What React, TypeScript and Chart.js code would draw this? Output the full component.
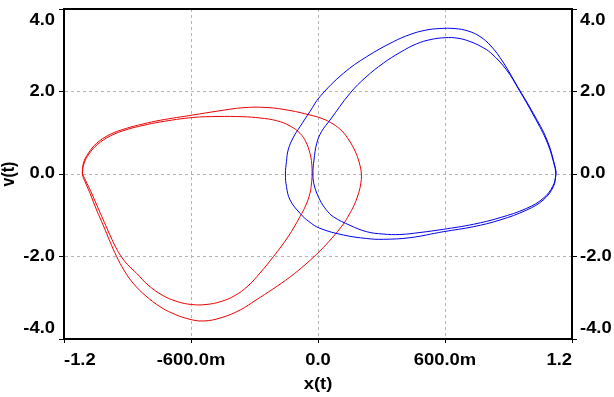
import React, { useEffect, useRef } from 'react';
import { Chart, registerables } from 'chart.js';

Chart.register(...registerables);

// ---- tick values / labels ----
const xTickValues = [-1.2, -0.6, 0, 0.6, 1.2];
const xTickLabels = ['-1.2', '-600.0m', '0.0', '600.0m', '1.2'];
const yTickValues = [-4, -2, 0, 2, 4];
const yTickLabels = ['-4.0', '-2.0', '0.0', '2.0', '4.0'];
const xTitle = 'x(t)';
const yTitle = 'v(t)';

// ---- blue orbit (right well): outer loop then inner loop ----
const blueOuterX = [1.124, 1.112, 1.064, 0.986, 0.860, 0.734, 0.592, 0.435, 0.308, 0.230, 0.120, 0.009, -0.043, -0.085, -0.132, -0.149, -0.154, -0.149, -0.141, -0.118, -0.085, -0.038, 0.009, 0.120, 0.230, 0.356, 0.435, 0.506, 0.576, 0.647, 0.709, 0.765, 0.817, 0.874, 0.943, 1.017, 1.082, 1.120, 1.124];
const blueOuterV = [0.000, -0.308, -0.630, -0.873, -1.115, -1.278, -1.399, -1.544, -1.583, -1.564, -1.479, -1.316, -1.152, -0.953, -0.630, -0.303, 0.000, 0.301, 0.582, 0.873, 1.147, 1.515, 1.874, 2.441, 2.844, 3.207, 3.382, 3.484, 3.527, 3.525, 3.467, 3.333, 3.103, 2.715, 2.116, 1.472, 0.824, 0.177, 0.000];
const blueInnerX = [1.110, 1.063, 0.986, 0.860, 0.734, 0.592, 0.482, 0.387, 0.307, 0.230, 0.151, 0.072, 0.038, 0.009, -0.017, -0.024, -0.019, -0.006, 0.017, 0.057, 0.151, 0.227, 0.308, 0.387, 0.466, 0.534, 0.600, 0.661, 0.718, 0.770, 0.817, 0.891, 0.950, 1.020, 1.084, 1.120, 1.124];
const blueInnerV = [-0.291, -0.594, -0.832, -1.059, -1.219, -1.341, -1.418, -1.467, -1.455, -1.399, -1.244, -1.035, -0.861, -0.630, -0.291, 0.000, 0.339, 0.744, 1.030, 1.309, 1.956, 2.352, 2.684, 2.945, 3.156, 3.261, 3.304, 3.292, 3.212, 3.091, 2.933, 2.521, 2.036, 1.406, 0.752, 0.145, 0.000];

// ---- red orbit (left well): outer loop then inner loop ----
const redOuterX = [-1.113, -1.108, -1.085, -1.046, -0.983, -0.904, -0.827, -0.746, -0.591, -0.472, -0.354, -0.241, -0.132, -0.038, 0.019, 0.071, 0.113, 0.146, 0.175, 0.194, 0.205, 0.201, 0.189, 0.170, 0.146, 0.120, 0.066, 0.009, -0.057, -0.132, -0.213, -0.293, -0.368, -0.454, -0.543, -0.620, -0.690, -0.746, -0.813, -0.873, -0.917, -0.951, -0.983, -1.013, -1.046, -1.077, -1.098, -1.113];
const redOuterV = [0.000, 0.267, 0.502, 0.744, 0.958, 1.108, 1.212, 1.302, 1.430, 1.527, 1.607, 1.612, 1.539, 1.430, 1.345, 1.212, 1.042, 0.824, 0.558, 0.291, 0.000, -0.267, -0.509, -0.764, -0.994, -1.212, -1.552, -1.867, -2.182, -2.497, -2.788, -3.055, -3.297, -3.479, -3.564, -3.503, -3.370, -3.217, -2.958, -2.650, -2.327, -2.005, -1.636, -1.261, -0.873, -0.468, -0.218, 0.000];
const redInnerX = [-1.105, -1.082, -1.042, -0.980, -0.902, -0.827, -0.746, -0.591, -0.472, -0.354, -0.274, -0.195, -0.132, -0.085, -0.057, -0.038, -0.030, -0.028, -0.031, -0.038, -0.057, -0.085, -0.142, -0.211, -0.274, -0.331, -0.392, -0.458, -0.529, -0.597, -0.666, -0.737, -0.803, -0.857, -0.900, -0.933, -0.961, -0.985, -1.009, -1.035, -1.068, -1.091, -1.113];
const redInnerV = [0.255, 0.485, 0.715, 0.926, 1.079, 1.176, 1.261, 1.370, 1.394, 1.389, 1.358, 1.292, 1.164, 0.987, 0.776, 0.502, 0.267, 0.000, -0.242, -0.468, -0.752, -1.035, -1.527, -2.005, -2.400, -2.715, -2.945, -3.091, -3.164, -3.164, -3.091, -2.933, -2.691, -2.407, -2.194, -1.976, -1.721, -1.455, -1.176, -0.873, -0.485, -0.230, 0.000];

const FONT = 'bold 16px "Liberation Sans", Arial, sans-serif';
const STRETCH = 1.15;
const GRID = '#b4b4b4';

const toPoints = (xs: number[], vs: number[]) => xs.map((x, i) => ({ x, y: vs[i] }));

const labelPlugin = {
  id: 'customLabels',
  afterDraw(chart: any) {
    const ctx = chart.ctx as CanvasRenderingContext2D;
    const xs = chart.scales.x;
    const ys = chart.scales.y;
    const area = chart.chartArea;
    const put = (text: string, px: number, py: number, align: CanvasTextAlign, base: CanvasTextBaseline, rot = 0) => {
      ctx.save();
      ctx.translate(px, py);
      if (rot) {
        ctx.rotate(rot);
        ctx.scale(1, STRETCH);
      } else {
        ctx.scale(STRETCH, 1);
      }
      ctx.textAlign = align;
      ctx.textBaseline = base;
      ctx.fillText(text, 0, 0);
      ctx.restore();
    };
    ctx.save();
    ctx.fillStyle = '#000';
    ctx.font = FONT;
    const n = xTickValues.length;
    xTickValues.forEach((v, i) => {
      const px = xs.getPixelForValue(v);
      const align: CanvasTextAlign = i === 0 ? 'left' : i === n - 1 ? 'right' : 'center';
      put(xTickLabels[i], px, area.bottom + 25.5, align, 'alphabetic');
    });
    const m = yTickValues.length;
    yTickValues.forEach((v, i) => {
      let py = ys.getPixelForValue(v);
      if (i === m - 1) py += 12;
      if (i === 0) py -= 10;
      put(yTickLabels[i], area.left - 9, py, 'right', 'middle');
      put(yTickLabels[i], area.right + 8, py, 'left', 'middle');
    });
    put(xTitle, (area.left + area.right) / 2, area.bottom + 49.5, 'center', 'alphabetic');
    put(yTitle, 9, (area.top + area.bottom) / 2, 'center', 'middle', -Math.PI / 2);
    ctx.restore();
  },
};

const gridColor = (n: number) => (c: any) => (c.index === 0 || c.index === n - 1 ? 'rgba(0,0,0,0)' : GRID);

export default function App() {
  const ref = useRef<HTMLCanvasElement | null>(null);
  useEffect(() => {
    if (!ref.current) return;
    const chart = new Chart(ref.current, {
      type: 'scatter',
      data: {
        datasets: [
          {
            data: toPoints(blueOuterX.concat(blueInnerX), blueOuterV.concat(blueInnerV)),
            borderColor: 'rgb(0,0,235)',
            borderWidth: 1,
            showLine: true,
            pointRadius: 0,
            tension: 0.4,
            fill: false,
          },
          {
            data: toPoints(redOuterX.concat(redInnerX), redOuterV.concat(redInnerV)),
            borderColor: 'rgb(235,0,0)',
            borderWidth: 1,
            showLine: true,
            pointRadius: 0,
            tension: 0.4,
            fill: false,
          },
        ],
      },
      options: {
        animation: false,
        responsive: false,
        layout: { padding: 0 },
        plugins: { legend: { display: false }, tooltip: { enabled: false } },
        scales: {
          x: {
            type: 'linear',
            position: 'bottom',
            min: -1.2,
            max: 1.2,
            afterBuildTicks: (s: any) => { s.ticks = xTickValues.map((value) => ({ value })); },
            afterFit: (s: any) => { s.height = 58; },
            ticks: { display: false },
            grid: { color: gridColor(xTickValues.length), lineWidth: 1, tickLength: 4, tickColor: '#000', tickWidth: 1 },
            border: { display: true, color: '#000', width: 2, dash: [3, 3] },
          },
          x2: {
            type: 'linear',
            position: 'top',
            min: -1.2,
            max: 1.2,
            afterFit: (s: any) => { s.height = 9; },
            ticks: { display: false },
            grid: { display: false },
            border: { display: true, color: '#000', width: 2 },
          },
          y: {
            type: 'linear',
            position: 'left',
            min: -4,
            max: 4,
            afterBuildTicks: (s: any) => { s.ticks = yTickValues.map((value) => ({ value })); },
            afterFit: (s: any) => { s.width = 64; },
            ticks: { display: false },
            grid: { color: gridColor(yTickValues.length), lineWidth: 1, tickLength: 5, tickColor: '#000', tickWidth: 1 },
            border: { display: true, color: '#000', width: 2, dash: [3, 3] },
          },
          y2: {
            type: 'linear',
            position: 'right',
            min: -4,
            max: 4,
            afterBuildTicks: (s: any) => { s.ticks = yTickValues.map((value) => ({ value })); },
            afterFit: (s: any) => { s.width = 42; },
            ticks: { display: false },
            grid: { drawOnChartArea: false, tickLength: 5, tickColor: '#000', tickWidth: 1 },
            border: { display: true, color: '#000', width: 2 },
          },
        },
      } as any,
      plugins: [labelPlugin],
    });
    return () => chart.destroy();
  }, []);
  return (
    <div style={{ position: 'fixed', left: 0, top: 0, width: 614, height: 397, background: '#fff' }}>
      <canvas ref={ref} width={614} height={397} style={{ display: 'block', width: 614, height: 397 }} />
    </div>
  );
}
